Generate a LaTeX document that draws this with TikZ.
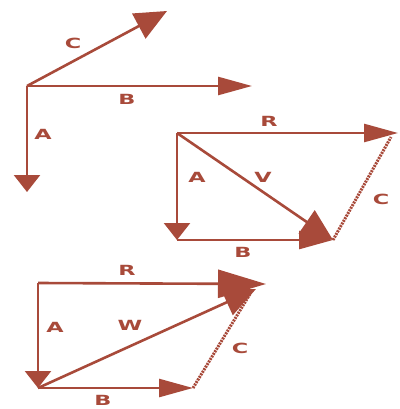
\documentclass[tikz,border=0pt]{standalone}
\usepackage{fontspec}
\setsansfont{DejaVu Sans}
\usetikzlibrary{arrows.meta}
\definecolor{vecred}{RGB}{168,74,58}

\begin{document}
\begin{tikzpicture}[x=1pt, y=-1pt, line width=2.6pt, color=vecred,
  lbl/.style={font=\sffamily\bfseries\fontsize{14}{14}\selectfont, xscale=1.6, inner sep=0pt},
  vtip/.style={-{Triangle[length=17pt,width=26pt]}},
  htip/.style={-{Triangle[length=34pt,width=18pt]}},
  dtip/.style={-{Triangle[length=32pt,width=28pt]}},
  hatch/.style={line width=3pt, dash pattern=on 2pt off 1pt}]
\useasboundingbox (0,0) rectangle (399,409);
% top: the three vectors
\coordinate (o1) at (27,86);
\coordinate (a1) at (27,192);
\coordinate (b1) at (252,86);
\coordinate (c1) at (167,11);
\draw[vtip] (o1) -- (a1);
\draw[htip] (o1) -- (b1);
\draw[dtip] (o1) -- (c1);
\node[lbl] (la1) at (43,134) {A};
\node[lbl] (lb1) at (127,99) {B};
\node[lbl] (lc1) at (73,43) {C};
% middle: V = A + B, R = V + C
\coordinate (o2) at (177,133);
\coordinate (a2) at (177,240);
\coordinate (b2) at (333,240);
\coordinate (r2) at (398,133);
\coordinate (c2) at (391,137);
\draw[vtip] (o2) -- (a2);
\draw[htip] (a2) -- (b2);
\draw[dtip] (o2) -- (b2);
\draw[htip] (o2) -- (r2);
\draw[hatch] (b2) -- (c2);
\node[lbl] (la2) at (197,177) {A};
\node[lbl] (lb2) at (243,252) {B};
\node[lbl] (lv2) at (263,177) {V};
\node[lbl] (lr2) at (269,121) {R};
\node[lbl] (lc2) at (381,199) {C};
% bottom: W = A + B, R = W + C
\coordinate (o3) at (38,283);
\coordinate (a3) at (38,388);
\coordinate (b3) at (193,388);
\coordinate (r3) at (266,284);
\coordinate (w3) at (256,289);
\coordinate (c3) at (250,294);
\draw[vtip] (o3) -- (a3);
\draw[htip] (a3) -- (b3);
\draw[-{Triangle[length=48pt,width=28pt]}] (o3) -- (r3);
\draw[dtip] (a3) -- (w3);
\draw[hatch] (b3) -- (c3);
\node[lbl] (la3) at (55,327) {A};
\node[lbl] (lb3) at (103,400) {B};
\node[lbl] (lw3) at (130,325) {W};
\node[lbl] (lr3) at (127,270) {R};
\node[lbl] (lc3) at (240,348) {C};
\end{tikzpicture}
\end{document}
